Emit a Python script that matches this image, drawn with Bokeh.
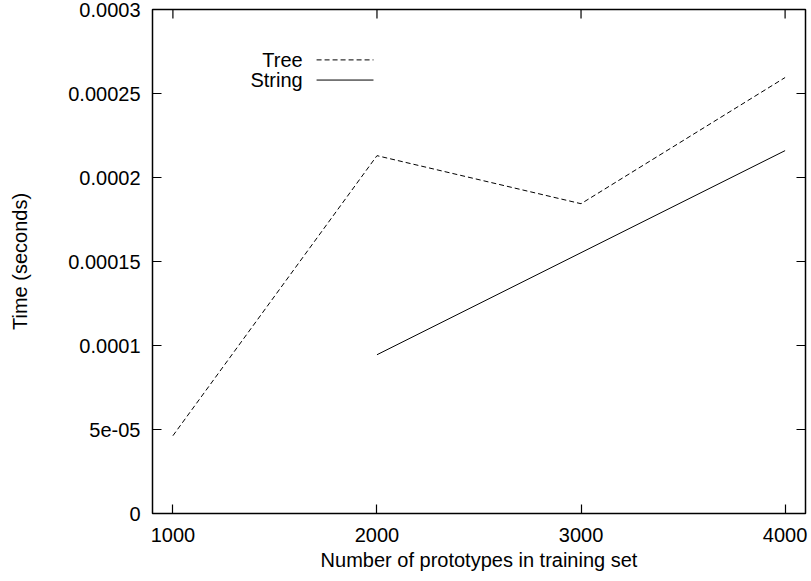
import math
from bokeh.plotting import figure
from bokeh.models import (Range1d, FixedTicker, LinearAxis, CustomJSTickFormatter,
                          Label, Arrow)
from bokeh.embed import file_html
from bokeh.resources import INLINE

# ---- data ----
x_tree = [1000, 2000, 3000, 4000]
y_tree = [4.63e-05, 2.13e-04, 1.844e-04, 2.595e-04]
x_string = [2000, 4000]
y_string = [9.45e-05, 2.16e-04]

x_ticks = [1000, 2000, 3000, 4000]
y_ticks = [0, 5e-05, 1e-04, 1.5e-04, 2e-04, 2.5e-04, 3e-04]
y_tick_labels = ["0", "5e-05", "0.0001", "0.00015", "0.0002", "0.00025", "0.0003"]
series_names = ["Tree", "String"]

X_MIN, X_MAX = 900, 4100
Y_MIN, Y_MAX = 0, 3e-04

FONT = "Liberation Sans"
FS = "20px"

p = figure(frame_width=653, frame_height=504,
           min_border_left=152, min_border_right=6, min_border_top=9, min_border_bottom=68,
           x_range=Range1d(X_MIN, X_MAX), y_range=Range1d(Y_MIN, Y_MAX),
           output_backend="svg", toolbar_location=None, background_fill_color="white",
           border_fill_color="white")
p.xaxis.visible = False
p.yaxis.visible = False
p.grid.visible = False
p.outline_line_color = "black"
p.outline_line_width = 1.5

fmt = CustomJSTickFormatter(args=dict(vals=y_ticks, labs=y_tick_labels), code="""
let best = 0; let bd = Infinity;
for (let i = 0; i < vals.length; i++) { const d = Math.abs(vals[i] - tick); if (d < bd) { bd = d; best = i; } }
return labs[best];
""")

def style(ax):
    ax.axis_line_color = None
    ax.major_tick_in = 9
    ax.major_tick_out = 0
    ax.major_tick_line_color = "black"
    ax.major_tick_line_width = 1.2
    ax.minor_tick_line_color = None
    ax.major_label_text_font = FONT
    ax.major_label_text_font_size = FS
    ax.major_label_text_color = "black"
    ax.axis_label_text_font = FONT
    ax.axis_label_text_font_size = FS
    ax.axis_label_text_font_style = "normal"
    ax.axis_label_text_color = "black"

xb = LinearAxis(ticker=FixedTicker(ticks=x_ticks), axis_label="Number of prototypes in training set")
style(xb)
xb.major_label_standoff = 14
xb.axis_label_standoff = 4
p.add_layout(xb, "below")

yl = LinearAxis(ticker=FixedTicker(ticks=y_ticks), formatter=fmt, axis_label="Time (seconds)")
style(yl)
yl.major_label_standoff = 12
yl.axis_label_standoff = 34
p.add_layout(yl, "left")

# mirrored inward ticks on top and right edges (gnuplot style)
p.ray(x=x_ticks, y=[Y_MAX] * len(x_ticks), length=9, length_units="screen",
      angle=-math.pi / 2, line_color="black", line_width=1.2)
p.ray(x=[X_MAX] * len(y_ticks), y=y_ticks, length=9, length_units="screen",
      angle=math.pi, line_color="black", line_width=1.2)

p.line(x_tree, y_tree, line_color="black", line_width=1, line_dash="5 3")
p.line(x_string, y_string, line_color="black", line_width=1)

# gnuplot-style key: label text, then sample line
key_y = [2.70e-04, 2.58e-04]
key_dash = ["5 3", "solid"]
for name, ky, dash in zip(series_names, key_y, key_dash):
    p.add_layout(Label(x=1636, y=ky, text=name, text_align="right", text_baseline="middle",
                       text_font=FONT, text_font_size=FS, text_color="black"))
    p.add_layout(Arrow(end=None, x_start=1704, y_start=ky, x_end=1983, y_end=ky,
                       line_color="black", line_width=1, line_dash=dash))

open("out.html", "w").write(file_html(p, INLINE))
